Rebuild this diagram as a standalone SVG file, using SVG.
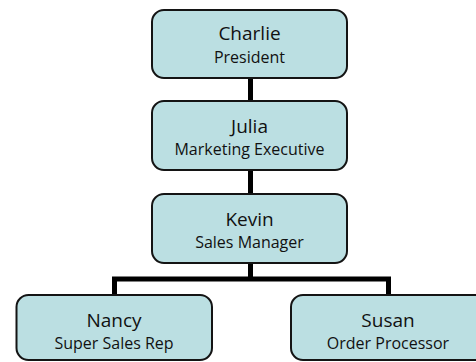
<svg xmlns="http://www.w3.org/2000/svg" width="476" height="362" viewBox="0 0 476 362">
<style>
.box{fill:#bbdfe2;stroke:#141414;stroke-width:2}
.name{font-family:"Open Sans","Noto Sans",sans-serif;font-size:19px;fill:#111;text-anchor:middle}
.role{font-family:"Open Sans","Noto Sans",sans-serif;font-size:16px;fill:#111;text-anchor:middle}
.conn{stroke:#000;stroke-width:5;fill:none}
</style>
<rect width="476" height="362" fill="#fff"/>
<g id="connectors">
<line class="conn" x1="250.5" y1="78" x2="250.5" y2="101"/>
<line class="conn" x1="250.5" y1="170" x2="250.5" y2="194"/>
<line class="conn" x1="250.5" y1="263" x2="250.5" y2="279"/>
<path class="conn" d="M114.5 295 V279 H388.5 V295"/>
</g>
<g id="charlie">
<rect class="box" x="152" y="10" width="195" height="68" rx="12"/>
<text class="name" x="249.5" y="40">Charlie</text>
<text class="role" x="249.5" y="63">President</text>
</g>
<g id="julia">
<rect class="box" x="152" y="101" width="195" height="69" rx="12"/>
<text class="name" x="249.5" y="133">Julia</text>
<text class="role" x="249.5" y="155">Marketing Executive</text>
</g>
<g id="kevin">
<rect class="box" x="152" y="194" width="195" height="69" rx="12"/>
<text class="name" x="249.5" y="226">Kevin</text>
<text class="role" x="249.5" y="248">Sales Manager</text>
</g>
<g id="nancy">
<rect class="box" x="16.5" y="295" width="195.5" height="65" rx="12"/>
<text class="name" x="114" y="327">Nancy</text>
<text class="role" x="114" y="349">Super Sales Rep</text>
</g>
<g id="susan">
<rect class="box" x="291" y="295" width="195.5" height="65" rx="12"/>
<text class="name" x="388" y="327">Susan</text>
<text class="role" x="388" y="349">Order Processor</text>
</g>
</svg>
